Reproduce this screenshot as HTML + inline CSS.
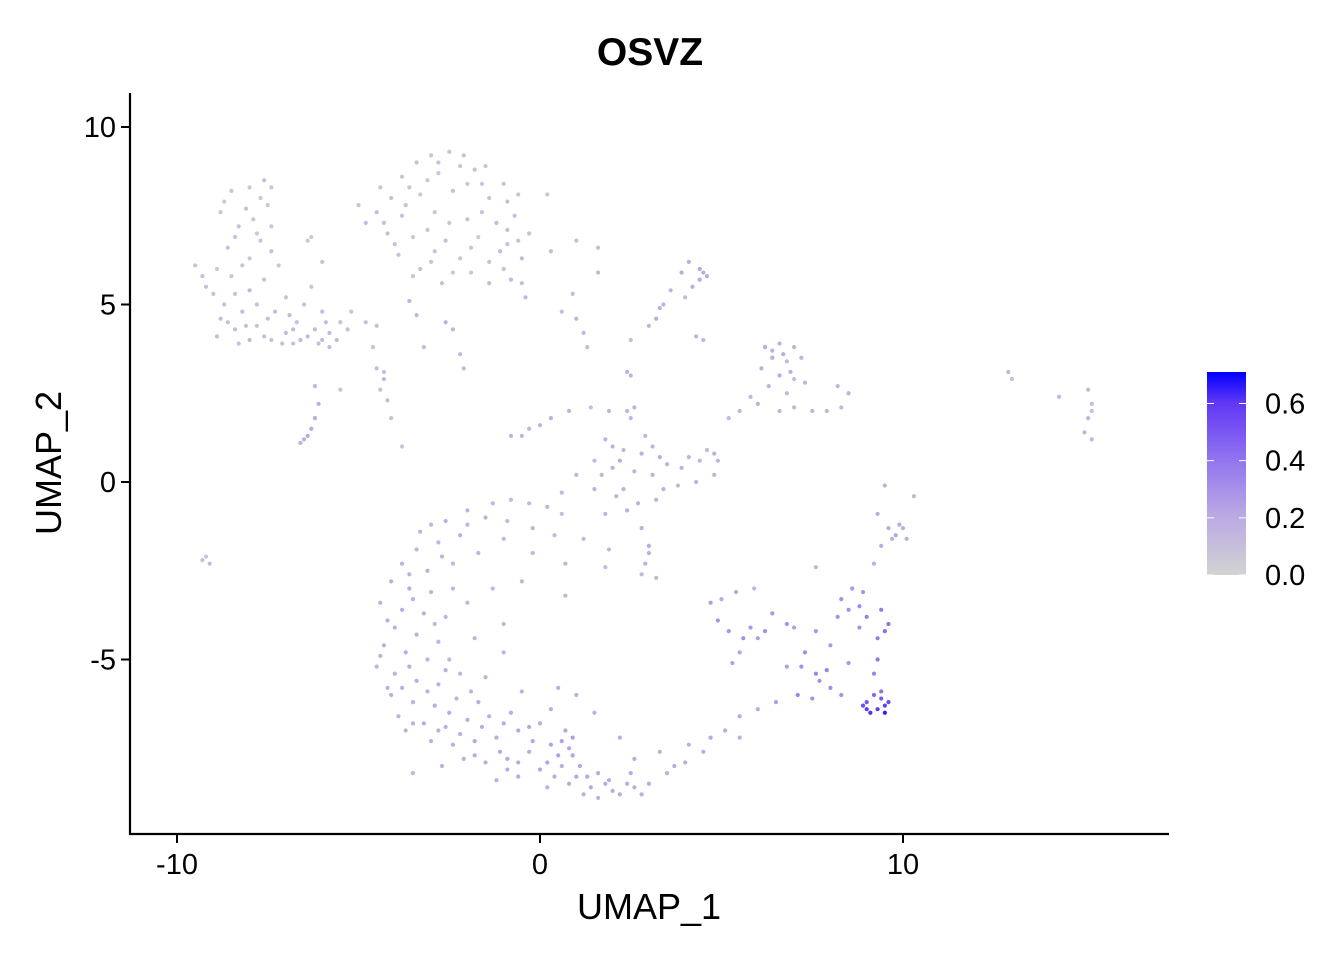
<!DOCTYPE html>
<html><head><meta charset="utf-8"><style>
html,body{margin:0;padding:0;background:#fff;}
svg text{font-family:"Liberation Sans",Arial,sans-serif;}
</style></head><body>
<svg id="chart" width="1344" height="960" xmlns="http://www.w3.org/2000/svg">
<defs><linearGradient id="cbar" x1="0" y1="1" x2="0" y2="0">
<stop offset="0" stop-color="#D3D3D3"/><stop offset="0.3" stop-color="#B9A8E4"/><stop offset="0.6" stop-color="#8C6EF0"/><stop offset="0.85" stop-color="#5F37F5"/><stop offset="1" stop-color="#0000FF"/></linearGradient></defs>
<text x="650" y="65" font-size="39" font-weight="bold" text-anchor="middle">OSVZ</text>
<g id="points"></g>
<line x1="130" y1="93" x2="130" y2="835" stroke="#000" stroke-width="2.2"/>
<line x1="129" y1="834" x2="1169" y2="834" stroke="#000" stroke-width="2.2"/>
<g id="xticks"></g>
<g id="yticks"></g>
<text x="649" y="919" font-size="36" text-anchor="middle">UMAP_1</text>
<text transform="translate(61,463) rotate(-90)" font-size="36" text-anchor="middle">UMAP_2</text>
<g>
<rect x="1207" y="372" width="39" height="203" fill="url(#cbar)"/>
<g id="cticks"></g>
</g>
</svg>
<script>
const xTicks=[-10,0,10];
const yTicks=[-5,0,5,10];
const legendTicks=[0.0,0.2,0.4,0.6];
const legendMax=0.71;
const clusterTopLeft=[[-8.5,8.2,.08],[-8,8.3,.06],[-7.6,8.5,.1],[-7.5,7.8,.05],[-8.8,7.6,.08],[-8.3,7.2,.1],[-7.8,7.0,.06],[-8.6,6.6,.09],[-8,6.3,.07],[-7.4,6.5,.1],[-8.9,6.0,.05],[-9.5,6.1,.08],[-9.2,5.5,.1],[-8.5,5.8,.06],[-8.0,5.4,.12],[-7.6,5.7,.08],[-8.7,5.0,.1],[-8.2,4.8,.12],[-7.8,4.4,.09],[-8.4,4.3,.11],[-8,4.0,.13],[-7.4,4.0,.1],[-7,4.2,.12],[-6.7,4.5,.1],[-6.4,4.1,.13],[-6.1,3.9,.11],[-5.8,4.2,.14],[-5.5,4.5,.1],[-5.2,4.8,.08],[-6,4.8,.12],[-6.5,5.0,.1],[-7.0,5.2,.09],[-7.3,4.8,.11],[-5.8,3.8,.12],[-6.8,3.9,.1],[-4.8,4.5,.09],[-4.5,4.4,.12],[-6.3,5.5,.08],[-7.7,8.0,.07],[-8.1,7.7,.09],[-6.4,6.8,.06],[-6.0,6.2,.08],[-9,5.3,.1],[-8.8,4.6,.11],[-7.9,7.4,.08],[-8.4,6.9,.1],[-7.2,6.1,.07],[-8.9,4.1,.12],[-6.9,4.7,.13],[-5.9,4.5,.1],[-8.3,3.9,.1],[-7.6,4.1,.12],[-7.1,3.9,.11],[-6.6,4.0,.13],[-6.2,4.3,.12],[-8.6,4.5,.1],[-8.1,4.4,.11],[-7.5,4.6,.1],[-5.6,4.0,.12],[-5.3,4.3,.1],[-8.4,5.3,.09],[-7.8,5.0,.1],[-7.4,7.2,.07],[-8.2,6.1,.08],[-7.7,6.8,.07],[-8.7,7.9,.06],[-7.4,8.3,.08],[-9.3,5.8,.08],[-6.8,4.3,.12],[-6.0,4.0,.13]];
const clusterStreams=[[-6.2,2.7,.15],[-6.1,2.2,.18],[-6.2,1.8,.2],[-6.3,1.5,.2],[-6.5,1.2,.18],[-6.6,1.1,.17],[-6.4,1.3,.2],[-9.3,-2.2,.1],[-9.1,-2.3,.12],[-9.2,-2.1,.08],[-4.6,3.8,.1],[-4.5,3.2,.12],[-4.3,2.9,.14],[-4.4,2.6,.1],[-4.2,2.3,.12],[-4.1,1.8,.09],[-3.8,1.0,.08],[-5.5,2.6,.1],[-6.3,6.9,.06],[-4.3,3.1,.12]];
const clusterTopMid=[[-3.4,9.0,.1],[-3,9.2,.08],[-2.5,9.3,.09],[-2.1,9.2,.1],[-3.8,8.6,.08],[-2.8,8.7,.06],[-1.8,8.8,.09],[-1,8.4,.1],[-0.6,8.1,.08],[-4.1,8.0,.1],[-3.3,8.1,.06],[-2.4,8.2,.1],[-1.4,8.0,.08],[-4.5,7.6,.12],[-3.8,7.5,.09],[-2.9,7.6,.07],[-2,7.4,.1],[-1.2,7.3,.12],[-0.7,7.5,.1],[-4.2,7.0,.11],[-3.5,6.9,.07],[-2.6,6.8,.09],[-1.7,6.9,.06],[-0.9,6.7,.1],[-4.8,7.3,.12],[-3.9,6.4,.1],[-3,6.2,.08],[-2.2,6.3,.07],[-1.4,6.2,.1],[-0.5,6.3,.12],[-3.5,5.8,.08],[-2.7,5.6,.1],[-1.9,5.9,.06],[-0.8,5.7,.12],[-0.4,5.2,.14],[-3.6,5.1,.15],[-2.6,4.5,.16],[-2.4,4.3,.15],[-3.2,3.8,.12],[-2.2,3.6,.14],[-2.1,3.2,.13],[0.2,8.1,.08],[0.3,6.5,.12],[1.0,6.8,.1],[1.6,6.6,.12],[1.6,5.9,.14],[0.9,5.3,.12],[0.6,4.8,.1],[1.2,4.2,.13],[1.3,3.8,.12],[1.0,4.6,.15],[-5,7.8,.1],[-1.5,8.9,.08],[-0.3,7.0,.1],[-2.0,8.4,.07],[-3.1,7.1,.09],[-1.0,6.0,.1],[-4.4,8.3,.08],[-2.8,9.0,.09],[-0.9,7.9,.12],[-3.6,8.3,.08],[-3.1,8.5,.07],[-2.2,8.9,.08],[-1.6,8.4,.09],[-4.3,7.3,.11],[-3.7,7.8,.1],[-2.5,7.3,.08],[-1.6,7.6,.1],[-0.9,7.1,.11],[-4.0,6.7,.1],[-2.9,6.5,.09],[-1.9,6.6,.08],[-1.1,6.5,.12],[-0.6,6.8,.1],[-3.3,6.0,.09],[-2.4,5.9,.08],[-1.4,5.6,.12],[-3.4,4.7,.14],[-0.5,5.6,.12]];
const clusterSmall=[[3.9,5.9,.2],[4.2,5.5,.18],[4.4,6.0,.22],[4.5,5.9,.2],[4.6,5.8,.2],[4.1,6.2,.18],[4.4,5.7,.2],[3.6,5.4,.15],[4.0,5.2,.12],[3.3,4.9,.18],[3.2,4.6,.2],[3.0,4.4,.16],[4.3,4.1,.18],[4.5,4.0,.16],[2.5,4.0,.12],[3.4,5.0,.16]];
const clusterRightTop=[[6.2,3.8,.2],[6.6,3.9,.18],[7.0,3.8,.16],[6.4,3.5,.2],[6.8,3.4,.14],[7.2,3.5,.16],[6.1,3.2,.18],[6.6,3.0,.2],[7.0,2.9,.12],[6.3,2.7,.16],[6.8,2.5,.14],[7.3,2.8,.15],[6.0,2.2,.17],[6.6,2.0,.15],[7.0,2.1,.14],[7.5,2.0,.16],[7.9,2.0,.15],[8.3,2.1,.14],[8.5,2.5,.16],[8.2,2.7,.15],[5.5,2.0,.15],[5.2,1.8,.14],[5.8,2.4,.16],[6.9,3.1,.2],[6.4,3.7,.18],[6.7,3.6,.2]];
const clusterFarRight=[[12.9,3.1,.15],[13,2.9,.12],[14.3,2.4,.15],[15.1,2.6,.14],[15.2,2.2,.12],[15.1,1.8,.15],[15.0,1.4,.16],[15.2,1.2,.13],[15.2,2.0,.1]];
const clusterCenter=[[-0.5,1.3,.15],[0,1.6,.16],[0.3,1.8,.18],[0.8,2.0,.15],[1.4,2.1,.12],[1.9,2.0,.16],[2.6,2.1,.18],[2.5,1.8,.16],[1.8,1.2,.17],[2.3,0.9,.15],[2.8,0.8,.18],[3.1,1.0,.16],[1.5,0.6,.14],[2.0,0.4,.18],[2.6,0.3,.15],[3.1,0.2,.17],[3.5,0.5,.16],[3.9,0.4,.18],[4.4,0.6,.15],[4.8,0.8,.17],[4.8,0.2,.15],[4.3,0,.16],[3.8,-0.1,.14],[1.0,0.2,.15],[1.5,-0.2,.17],[2.1,-0.4,.16],[2.7,-0.6,.18],[3.2,-0.5,.15],[2.4,-0.8,.17],[1.8,-0.9,.16],[2.8,-1.3,.18],[3,-1.8,.2],[2.9,-2.3,.17],[2.8,-2.6,.14],[3.2,-2.7,.15],[3,-2.0,.18],[1.9,-1.9,.15],[-0.8,1.3,.16],[0.6,-0.3,.14],[4.9,0.6,.16],[4.6,0.9,.14],[2.4,2.0,.15],[2.4,3.1,.17],[2.5,3.0,.16],[2.2,0.6,.2],[3.4,-0.2,.16],[2.0,1.0,.17],[2.9,1.3,.15],[3.3,0.7,.18],[2.3,-0.2,.16],[1.7,0.2,.15],[4.1,0.7,.16],[-0.3,1.5,.14]];
const clusterRightMid=[[9.5,-0.1,.18],[9.3,-0.9,.2],[9.6,-1.3,.2],[10.0,-1.3,.18],[9.8,-1.5,.22],[10.1,-1.6,.2],[9.7,-1.6,.18],[9.4,-1.8,.2],[10.3,-0.4,.15],[9.2,-2.3,.18],[9.9,-1.2,.2]];
const clusterRightLow=[[4.7,-3.4,.25],[5.0,-3.3,.2],[5.4,-3.1,.22],[5.9,-3.0,.15],[4.9,-3.9,.3],[5.2,-4.2,.28],[5.6,-4.4,.3],[6.0,-4.4,.25],[6.4,-3.7,.28],[6.8,-4.0,.3],[7.0,-4.1,.25],[7.6,-4.2,.28],[7.3,-4.8,.32],[7.2,-5.2,.3],[7.6,-5.4,.35],[6.8,-5.2,.25],[5.5,-4.8,.22],[5.3,-5.1,.25],[8.3,-3.3,.3],[8.6,-3.0,.28],[8.9,-3.1,.3],[8.8,-3.5,.32],[8.5,-3.6,.3],[9.0,-3.8,.35],[9.4,-3.6,.38],[9.6,-4.0,.42],[9.5,-4.2,.42],[8.8,-4.1,.3],[9.3,-4.4,.38],[8.0,-4.6,.28],[8.5,-5.1,.3],[7.9,-5.3,.35],[8.0,-5.8,.32],[7.7,-5.6,.3],[8.3,-6.0,.3],[7.1,-6.0,.35],[7.5,-6.1,.3],[9.3,-5.0,.4],[9.2,-5.4,.35],[8.9,-6.3,.55],[9.0,-6.4,.6],[9.1,-6.5,.62],[9.3,-6.4,.6],[9.5,-6.3,.58],[9.6,-6.2,.55],[9.4,-6.1,.5],[9.2,-6.0,.45],[9.4,-5.9,.42],[9.0,-6.2,.5],[9.5,-6.5,.65],[6.5,-6.2,.25],[6.0,-6.4,.2],[5.5,-6.6,.22],[5.1,-7.0,.2],[4.7,-7.2,.22],[4.5,-7.6,.2],[5.5,-7.2,.18],[4.0,-7.9,.2],[4.1,-7.4,.18],[3.7,-8.0,.2],[3.5,-8.2,.18],[7.6,-2.4,.15],[5.8,-4.1,.28],[6.2,-4.2,.3],[8.2,-3.8,.3]];
const clusterC=[[-1.3,-0.6,.15],[-0.8,-0.5,.12],[-0.3,-0.6,.14],[0.2,-0.7,.15],[0.6,-0.9,.12],[-2,-0.8,.16],[-2.6,-1.1,.18],[-3,-1.2,.15],[-1.5,-1.0,.17],[-0.9,-1.1,.14],[-0.2,-1.3,.16],[0.4,-1.5,.14],[-2.2,-1.5,.18],[-2.8,-1.7,.16],[-3.4,-1.9,.15],[-3.8,-2.3,.17],[-3.1,-2.5,.18],[-2.4,-2.3,.15],[-1.7,-2.0,.16],[-4.1,-2.8,.18],[-3.6,-3.0,.2],[-3.0,-3.1,.17],[-2.4,-3.0,.16],[-4.4,-3.4,.18],[-3.8,-3.6,.2],[-3.2,-3.7,.17],[-2.6,-3.8,.15],[-4.0,-4.1,.19],[-3.4,-4.3,.18],[-2.8,-4.5,.16],[-4.3,-4.6,.18],[-3.7,-4.8,.2],[-3.1,-5.0,.17],[-2.5,-5.0,.15],[-4.5,-5.2,.16],[-4.0,-5.4,.18],[-3.4,-5.6,.2],[-2.8,-5.7,.17],[-2.2,-5.4,.16],[-4.1,-6.0,.18],[-3.5,-6.2,.19],[-2.9,-6.3,.2],[-2.3,-6.1,.17],[-1.7,-6.2,.18],[-3.9,-6.6,.16],[-3.2,-6.8,.2],[-2.6,-6.9,.18],[-2.0,-6.7,.2],[-1.4,-6.6,.19],[-0.8,-6.5,.2],[-3.0,-7.3,.18],[-2.4,-7.4,.2],[-1.8,-7.3,.22],[-1.2,-7.2,.2],[-0.6,-7.0,.22],[0,-6.8,.2],[-2.1,-7.8,.18],[-1.5,-7.9,.2],[-0.9,-7.8,.22],[-0.3,-7.6,.2],[0.3,-7.4,.24],[0.8,-7.5,.22],[-1.2,-8.4,.18],[-0.6,-8.3,.2],[0,-8.1,.22],[0.6,-8.0,.2],[1.1,-8.0,.22],[1.6,-8.2,.2],[0.2,-8.6,.18],[0.8,-8.5,.2],[1.4,-8.6,.22],[2.0,-8.7,.2],[2.6,-8.6,.18],[3.0,-8.5,.2],[1.6,-8.9,.18],[2.2,-8.8,.2],[2.8,-8.8,.18],[0.7,-7.0,.22],[0.3,-6.4,.2],[-0.5,-5.9,.18],[-1.5,-5.5,.16],[-1.0,-4.8,.15],[-1.8,-4.4,.16],[-2.0,-3.4,.15],[-1.3,-3.0,.14],[-0.5,-2.8,.15],[-1.0,-4.0,.14],[0.5,-5.8,.18],[1.0,-6.0,.17],[1.5,-6.5,.18],[2.2,-7.2,.2],[2.6,-7.8,.2],[3.3,-7.6,.18],[-0.2,-2.0,.14],[0.7,-2.3,.15],[1.2,-1.6,.14],[-3.7,-7.0,.17],[-4.2,-5.8,.16],[-3.5,-8.2,.15],[-2.7,-8.0,.17],[1.8,-2.4,.12],[0.7,-3.2,.13],[0.9,-7.7,.24],[1.3,-8.3,.22],[-0.2,-7.3,.22],[-3.3,-1.4,.17],[-2.0,-1.2,.15],[-1.0,-1.6,.15],[-3.6,-2.6,.18],[-2.7,-2.1,.17],[-4.2,-3.9,.19],[-3.5,-3.3,.18],[-2.9,-4.0,.16],[-4.4,-4.9,.18],[-3.6,-5.2,.2],[-2.6,-5.3,.17],[-3.8,-5.8,.18],[-3.1,-5.9,.19],[-2.5,-6.5,.2],[-1.9,-5.9,.17],[-3.5,-6.8,.18],[-2.8,-7.0,.19],[-2.2,-7.1,.2],[-1.6,-6.9,.2],[-1.0,-6.8,.21],[-0.3,-6.9,.22],[-1.8,-7.7,.2],[-1.1,-7.6,.22],[-0.6,-7.9,.22],[0.2,-7.9,.23],[0.6,-7.3,.24],[-0.9,-8.1,.2],[0.4,-8.3,.2],[1.0,-8.3,.22],[1.8,-8.5,.2],[2.4,-8.5,.2],[1.2,-8.8,.18],[1.9,-8.4,.2],[2.5,-8.2,.2],[0.9,-7.2,.25],[0.5,-7.7,.24]];
const allClusters=[clusterTopLeft,clusterStreams,clusterTopMid,clusterSmall,clusterRightTop,clusterFarRight,clusterCenter,clusterRightMid,clusterRightLow,clusterC];

const xScale=v=>540+v*36.3;
const yScale=v=>482-v*35.5;
const NS="http://www.w3.org/2000/svg";
const cStops=[[0,211,211,211],[0.3,185,168,228],[0.6,140,110,240],[0.85,95,55,245],[1,0,0,255]];
function colorFor(v){const t=Math.max(0,Math.min(1,v/legendMax));
 for(let i=1;i<cStops.length;i++){if(t<=cStops[i][0]){const a=cStops[i-1],b=cStops[i],f=(t-a[0])/(b[0]-a[0]);
  return `rgb(${Math.round(a[1]+(b[1]-a[1])*f)},${Math.round(a[2]+(b[2]-a[2])*f)},${Math.round(a[3]+(b[3]-a[3])*f)})`;}}
 return 'rgb(0,0,255)';}
const pg=document.getElementById('points');
const flat=[];allClusters.forEach(c=>c.forEach(p=>flat.push(p)));
flat.sort((a,b)=>a[2]-b[2]);
flat.forEach(p=>{const c=document.createElementNS(NS,'circle');
 c.setAttribute('cx',xScale(p[0]));c.setAttribute('cy',yScale(p[1]));c.setAttribute('r',2.1);c.setAttribute('fill',colorFor(p[2]));
 
 
 pg.appendChild(c);});
const xg=document.getElementById('xticks');
xTicks.forEach(t=>{const x=xScale(t);
 const l=document.createElementNS(NS,'line');l.setAttribute('x1',x);l.setAttribute('x2',x);l.setAttribute('y1',834);l.setAttribute('y2',843);l.setAttribute('stroke','#000');l.setAttribute('stroke-width',2);
 
 
 xg.appendChild(l);
 const tx=document.createElementNS(NS,'text');tx.setAttribute('x',x);tx.setAttribute('y',874);tx.setAttribute('font-size',29);tx.setAttribute('text-anchor','middle');tx.textContent=t;
 
 
 xg.appendChild(tx);});
const yg=document.getElementById('yticks');
yTicks.forEach(t=>{const y=yScale(t);
 const l=document.createElementNS(NS,'line');l.setAttribute('x1',121);l.setAttribute('x2',130);l.setAttribute('y1',y);l.setAttribute('y2',y);l.setAttribute('stroke','#000');l.setAttribute('stroke-width',2);
 
 
 yg.appendChild(l);
 const tx=document.createElementNS(NS,'text');tx.setAttribute('x',116);tx.setAttribute('y',y+10);tx.setAttribute('font-size',29);tx.setAttribute('text-anchor','end');tx.textContent=t;
 
 
 yg.appendChild(tx);});
const cg=document.getElementById('cticks');
legendTicks.forEach(t=>{const y=575-t/legendMax*203;
 [1207,1239].forEach(x0=>{const l=document.createElementNS(NS,'line');l.setAttribute('x1',x0);l.setAttribute('x2',x0+7);l.setAttribute('y1',y);l.setAttribute('y2',y);l.setAttribute('stroke','#fff');l.setAttribute('stroke-width',1);
 
 
 cg.appendChild(l);});
 const tx=document.createElementNS(NS,'text');tx.setAttribute('x',1265);tx.setAttribute('y',y+10);tx.setAttribute('font-size',29);tx.textContent=t.toFixed(1);
 
 
 cg.appendChild(tx);});
</script>
</body></html>
